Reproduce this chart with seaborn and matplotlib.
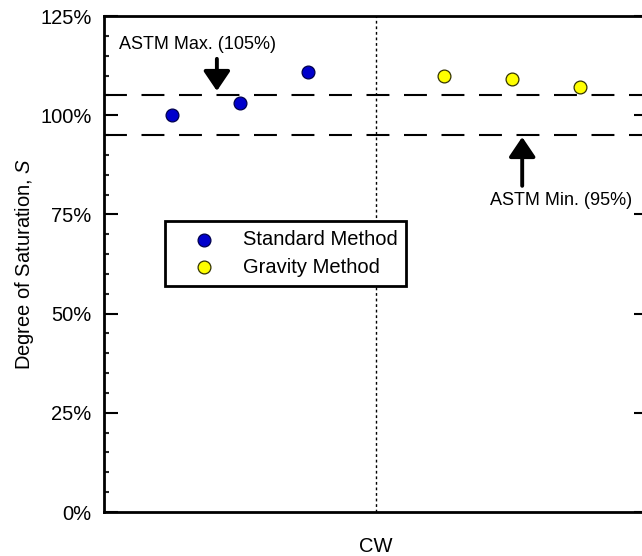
import matplotlib
matplotlib.use("Agg")
import matplotlib.pyplot as plt
from matplotlib.ticker import MultipleLocator, FuncFormatter
import seaborn as sns
import pandas as pd

# Degree of saturation per specimen, CW series
standard_order = [1, 2, 3]
standard_saturation = [100, 103, 111]
gravity_order = [5, 6, 7]
gravity_saturation = [110, 109, 107]
method_names = ["Standard Method", "Gravity Method"]
method_colors = ["#0000CC", "#FFFF00"]
method_edges = ["#00004D", "#333300"]
group_label = "CW"
astm_max = 105
astm_min = 95

df = pd.DataFrame({
    "order": standard_order + gravity_order,
    "saturation": standard_saturation + gravity_saturation,
    "method": [method_names[0]] * len(standard_order) + [method_names[1]] * len(gravity_order),
})

sns.set_theme(style="ticks")
plt.rcParams["font.family"] = ["Liberation Sans", "DejaVu Sans"]
plt.rcParams["mathtext.fontset"] = "custom"
plt.rcParams["mathtext.it"] = "Liberation Sans:italic"
plt.rcParams["mathtext.rm"] = "Liberation Sans"
plt.rcParams["text.color"] = "black"
plt.rcParams["axes.labelcolor"] = "black"

W, H = 642, 556
fig = plt.figure(figsize=(W / 100, H / 100), dpi=100)
ax = fig.add_axes([104 / W, 1 - 512 / H, (648 - 104) / W, (512 - 16) / H])

for name, color, edge in zip(method_names, method_colors, method_edges):
    sub = df[df["method"] == name]
    sns.scatterplot(data=sub, x="order", y="saturation", ax=ax, color=color,
                    edgecolor=edge, linewidth=0.9, s=85, label=name, zorder=4)

# ASTM limits
ax.axhline(astm_max, color="black", lw=1.5, ls=(0, (11, 7)), zorder=2)
ax.axhline(astm_min, color="black", lw=1.5, ls=(0, (11, 7)), zorder=2)
ax.axvline(4, color="black", lw=1.0, ls=(0, (2, 2)), zorder=1)

arrow_kw = dict(arrowstyle="-|>,head_length=0.4,head_width=0.27", mutation_scale=30,
                color="black", lw=2.8, shrinkA=0, shrinkB=0)
ax.annotate("", xy=(1.66, 106.1), xytext=(1.66, 114.2), arrowprops=arrow_kw, zorder=5)
ax.text(1.38, 117.7, "ASTM Max. (105%)", ha="center", va="center", fontsize=13)
ax.annotate("", xy=(6.15, 94.5), xytext=(6.15, 82.2), arrowprops=arrow_kw, zorder=5)
ax.text(6.72, 78.6, "ASTM Min. (95%)", ha="center", va="center", fontsize=13)

ax.set_xlim(0, 8)
ax.set_ylim(0, 125)
ax.yaxis.set_major_locator(MultipleLocator(25))
ax.yaxis.set_minor_locator(MultipleLocator(5))
ax.yaxis.set_major_formatter(FuncFormatter(lambda v, p: f"{v:.0f}%"))
ax.tick_params(axis="y", which="major", direction="in", length=10, width=1.5,
               left=True, right=True, labelsize=14.5, pad=9, colors="black")
ax.tick_params(axis="y", which="minor", direction="in", length=3.6, width=1.5,
               left=True, right=True)
ax.set_xticks([4])
ax.set_xticklabels([group_label])
ax.tick_params(axis="x", length=0, labelsize=14.5, pad=18, colors="black")

for sp in ax.spines.values():
    sp.set_linewidth(2)
    sp.set_color("black")

ax.set_xlabel("")
ax.set_ylabel(r"Degree of Saturation, $\it{S}$", fontsize=14.5, labelpad=3, color="black")

leg = ax.legend(loc="upper left", bbox_to_anchor=(165 / W, 1 - 221 / H),
                bbox_transform=fig.transFigure, borderaxespad=0, frameon=True,
                fancybox=False, fontsize=14.5, handletextpad=0.4, labelspacing=0.42,
                borderpad=0.45, handlelength=3.0, framealpha=1)
leg.get_frame().set_edgecolor("black")
leg.get_frame().set_linewidth(2)
leg.set_zorder(6)

fig.savefig("out.png", dpi=100)
